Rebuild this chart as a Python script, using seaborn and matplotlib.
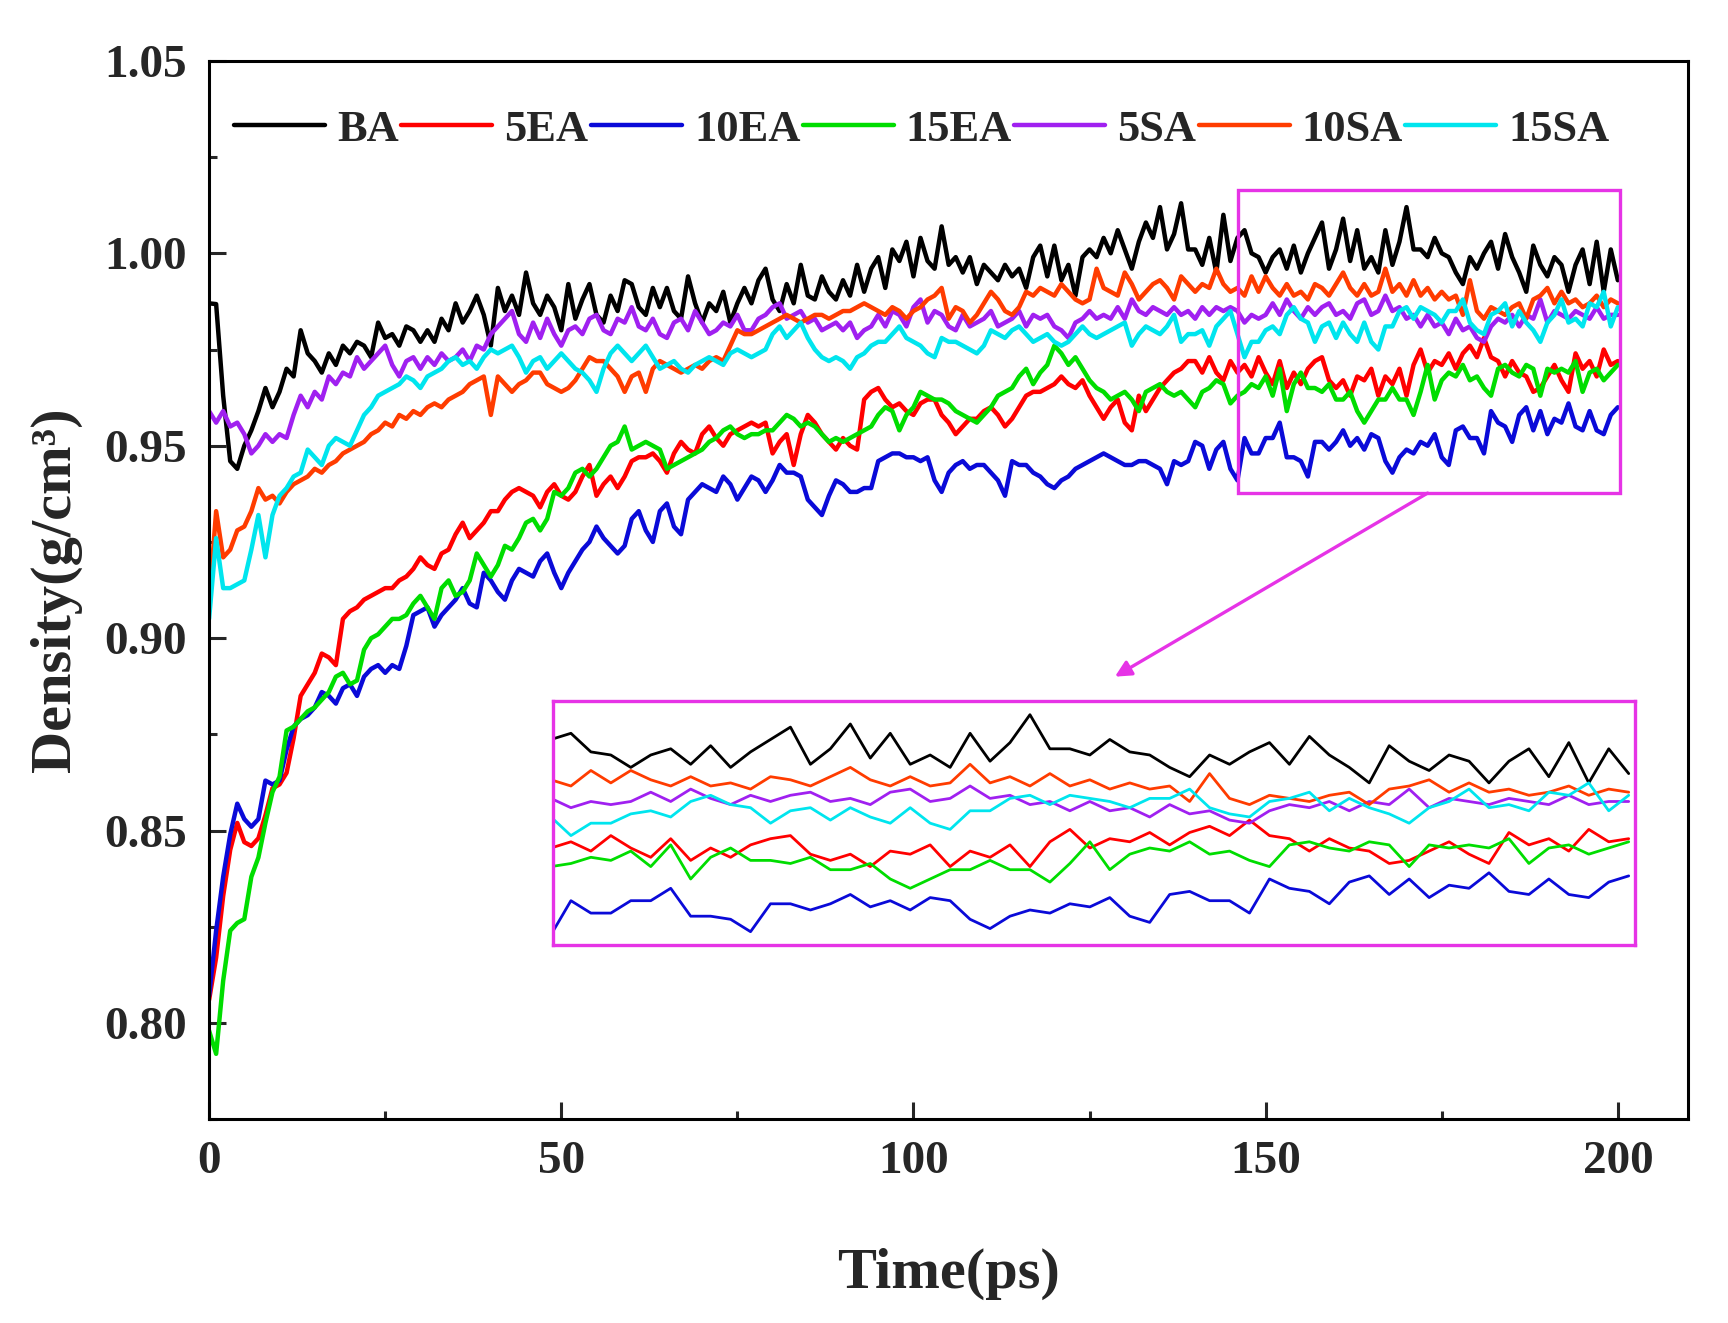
import numpy as np
import pandas as pd
import matplotlib
matplotlib.use('Agg')
import matplotlib.pyplot as plt
import seaborn as sns
from matplotlib.patches import Rectangle
from matplotlib.lines import Line2D
from matplotlib.ticker import MultipleLocator, FormatStrFormatter

# time axis, one sample per ps
time_ps = np.arange(0, 201)

# densities, in units of 1e-4 g/cm3
ba = [
    9870, 9868, 9630, 9460, 9440, 9500, 9540, 9590, 9650, 9600,
    9640, 9700, 9680, 9800, 9740, 9720, 9690, 9740, 9710, 9760,
    9740, 9770, 9760, 9730, 9820, 9780, 9790, 9760, 9810, 9800,
    9770, 9800, 9770, 9830, 9800, 9870, 9820, 9850, 9890, 9840,
    9760, 9910, 9850, 9890, 9840, 9950, 9870, 9840, 9890, 9860,
    9800, 9920, 9830, 9880, 9920, 9840, 9820, 9890, 9850, 9930,
    9920, 9860, 9840, 9910, 9860, 9910, 9850, 9830, 9940, 9870,
    9820, 9870, 9850, 9900, 9820, 9870, 9910, 9870, 9930, 9960,
    9880, 9850, 9920, 9870, 9970, 9890, 9880, 9940, 9900, 9880,
    9930, 9890, 9970, 9900, 9960, 9990, 9910, 10010, 9980, 10030,
    9940, 10040, 9980, 9960, 10070, 9970, 9990, 9950, 9990, 9920,
    9970, 9950, 9930, 9970, 9940, 9960, 9910, 9990, 10020, 9940,
    10020, 9930, 9970, 9890, 9990, 10010, 9990, 10040, 10000, 10060,
    10010, 9960, 10030, 10080, 10040, 10120, 10010, 10050, 10130, 10010,
    10010, 9970, 10040, 9950, 10100, 9980, 10040, 10060, 10000, 9990,
    9950, 9990, 10010, 9960, 10020, 9950, 10000, 10040, 10080, 9960,
    10010, 10090, 9980, 10060, 9960, 9990, 9950, 10060, 9970, 10030,
    10120, 10010, 10010, 9990, 10040, 10000, 9990, 9950, 9920, 9990,
    9960, 10000, 10030, 9960, 10050, 9990, 9950, 9900, 10020, 9970,
    9940, 9990, 9970, 9900, 9970, 10010, 9920, 10030, 9900, 10010,
    9930,
]
ea5 = [
    8060, 8170, 8330, 8450, 8520, 8470, 8460, 8480, 8540, 8610,
    8620, 8650, 8740, 8850, 8880, 8910, 8960, 8950, 8930, 9050,
    9070, 9080, 9100, 9110, 9120, 9130, 9130, 9150, 9160, 9180,
    9210, 9190, 9180, 9220, 9230, 9270, 9300, 9260, 9280, 9300,
    9330, 9330, 9360, 9380, 9390, 9380, 9370, 9340, 9380, 9400,
    9370, 9360, 9380, 9420, 9450, 9370, 9400, 9420, 9390, 9420,
    9460, 9470, 9470, 9480, 9460, 9430, 9480, 9510, 9490, 9480,
    9530, 9550, 9520, 9500, 9530, 9540, 9550, 9560, 9550, 9560,
    9480, 9510, 9530, 9450, 9530, 9580, 9560, 9530, 9510, 9490,
    9520, 9500, 9490, 9620, 9640, 9650, 9620, 9600, 9610, 9590,
    9580, 9610, 9620, 9620, 9580, 9560, 9530, 9550, 9570, 9570,
    9590, 9600, 9580, 9550, 9570, 9600, 9630, 9640, 9640, 9650,
    9660, 9680, 9660, 9650, 9670, 9630, 9600, 9570, 9600, 9620,
    9560, 9540, 9630, 9590, 9620, 9650, 9670, 9690, 9700, 9720,
    9720, 9690, 9730, 9690, 9670, 9720, 9690, 9710, 9680, 9730,
    9690, 9660, 9720, 9650, 9690, 9660, 9700, 9720, 9730, 9670,
    9650, 9670, 9630, 9680, 9670, 9700, 9630, 9680, 9660, 9700,
    9630, 9710, 9750, 9690, 9720, 9710, 9740, 9700, 9740, 9760,
    9730, 9780, 9730, 9720, 9680, 9720, 9690, 9680, 9640, 9650,
    9680, 9710, 9670, 9640, 9740, 9700, 9720, 9680, 9750, 9710,
    9720,
]
ea10 = [
    8070, 8240, 8380, 8490, 8570, 8530, 8510, 8530, 8630, 8620,
    8630, 8710, 8770, 8790, 8800, 8820, 8860, 8850, 8830, 8870,
    8880, 8850, 8900, 8920, 8930, 8910, 8930, 8920, 8980, 9060,
    9070, 9080, 9030, 9060, 9080, 9100, 9130, 9090, 9080, 9170,
    9150, 9120, 9100, 9150, 9180, 9170, 9160, 9200, 9220, 9170,
    9130, 9170, 9200, 9230, 9250, 9290, 9260, 9240, 9220, 9240,
    9310, 9330, 9280, 9250, 9330, 9350, 9290, 9270, 9360, 9380,
    9400, 9390, 9380, 9420, 9400, 9360, 9390, 9420, 9410, 9380,
    9410, 9450, 9430, 9430, 9420, 9360, 9340, 9320, 9370, 9410,
    9400, 9380, 9380, 9390, 9390, 9460, 9470, 9480, 9480, 9470,
    9470, 9460, 9470, 9410, 9380, 9430, 9450, 9460, 9440, 9450,
    9450, 9430, 9410, 9370, 9460, 9450, 9450, 9430, 9420, 9400,
    9390, 9410, 9420, 9440, 9450, 9460, 9470, 9480, 9470, 9460,
    9450, 9450, 9460, 9460, 9450, 9440, 9400, 9460, 9450, 9460,
    9510, 9500, 9440, 9490, 9510, 9440, 9410, 9520, 9480, 9480,
    9520, 9520, 9560, 9470, 9470, 9460, 9420, 9510, 9510, 9490,
    9510, 9540, 9500, 9520, 9490, 9530, 9520, 9460, 9430, 9470,
    9490, 9480, 9510, 9500, 9530, 9470, 9450, 9540, 9550, 9520,
    9520, 9480, 9590, 9560, 9550, 9510, 9580, 9600, 9540, 9590,
    9530, 9570, 9560, 9610, 9550, 9540, 9590, 9540, 9530, 9580,
    9600,
]
ea15 = [
    7980, 7920, 8110, 8240, 8260, 8270, 8380, 8430, 8520, 8600,
    8640, 8760, 8770, 8790, 8810, 8820, 8840, 8860, 8900, 8910,
    8880, 8890, 8970, 9000, 9010, 9030, 9050, 9050, 9060, 9090,
    9110, 9080, 9050, 9130, 9150, 9110, 9120, 9150, 9220, 9190,
    9160, 9190, 9240, 9230, 9260, 9300, 9310, 9280, 9310, 9380,
    9370, 9390, 9430, 9440, 9420, 9440, 9470, 9500, 9510, 9550,
    9490, 9500, 9510, 9500, 9490, 9440, 9450, 9460, 9470, 9480,
    9490, 9510, 9520, 9540, 9550, 9530, 9520, 9530, 9530, 9540,
    9540, 9560, 9580, 9570, 9550, 9560, 9550, 9530, 9510, 9520,
    9510, 9520, 9530, 9540, 9550, 9580, 9600, 9590, 9540, 9580,
    9600, 9640, 9630, 9620, 9620, 9610, 9590, 9580, 9570, 9560,
    9580, 9600, 9630, 9640, 9650, 9680, 9700, 9660, 9690, 9710,
    9760, 9740, 9710, 9730, 9700, 9670, 9650, 9640, 9620, 9630,
    9640, 9620, 9590, 9640, 9650, 9660, 9640, 9630, 9640, 9620,
    9600, 9640, 9650, 9670, 9660, 9610, 9630, 9640, 9660, 9650,
    9680, 9630, 9700, 9590, 9660, 9690, 9650, 9650, 9640, 9660,
    9620, 9620, 9640, 9590, 9560, 9590, 9620, 9620, 9650, 9620,
    9620, 9580, 9640, 9710, 9620, 9670, 9690, 9680, 9710, 9670,
    9680, 9650, 9630, 9700, 9710, 9690, 9680, 9710, 9700, 9630,
    9700, 9690, 9700, 9690, 9720, 9640, 9690, 9700, 9670, 9690,
    9710,
]
sa5 = [
    9590, 9560, 9590, 9550, 9560, 9530, 9480, 9500, 9530, 9510,
    9530, 9520, 9580, 9630, 9600, 9640, 9620, 9680, 9660, 9690,
    9680, 9730, 9700, 9720, 9740, 9760, 9710, 9680, 9720, 9730,
    9700, 9730, 9710, 9740, 9720, 9730, 9750, 9720, 9760, 9750,
    9790, 9810, 9830, 9850, 9790, 9770, 9820, 9780, 9830, 9790,
    9760, 9800, 9810, 9790, 9830, 9840, 9800, 9790, 9830, 9820,
    9860, 9810, 9800, 9830, 9790, 9780, 9820, 9830, 9800, 9850,
    9820, 9790, 9800, 9820, 9810, 9840, 9800, 9800, 9830, 9840,
    9860, 9870, 9830, 9840, 9850, 9820, 9830, 9800, 9810, 9820,
    9800, 9820, 9780, 9800, 9810, 9840, 9810, 9850, 9840, 9810,
    9860, 9880, 9820, 9850, 9840, 9810, 9800, 9840, 9810, 9820,
    9830, 9850, 9810, 9820, 9830, 9850, 9810, 9840, 9830, 9840,
    9810, 9800, 9780, 9820, 9830, 9850, 9830, 9840, 9830, 9860,
    9830, 9880, 9850, 9840, 9860, 9850, 9840, 9860, 9840, 9850,
    9830, 9860, 9840, 9860, 9850, 9860, 9850, 9820, 9840, 9830,
    9840, 9870, 9840, 9880, 9850, 9830, 9860, 9840, 9860, 9870,
    9840, 9850, 9830, 9870, 9880, 9840, 9850, 9890, 9850, 9860,
    9830, 9840, 9810, 9840, 9810, 9820, 9790, 9830, 9800, 9810,
    9780, 9770, 9810, 9830, 9820, 9840, 9810, 9840, 9830, 9880,
    9820, 9850, 9840, 9830, 9850, 9840, 9830, 9860, 9830, 9840,
    9840,
]
sa10 = [
    9090, 9330, 9210, 9230, 9280, 9290, 9330, 9390, 9360, 9370,
    9350, 9380, 9400, 9410, 9420, 9440, 9430, 9450, 9460, 9480,
    9490, 9500, 9510, 9530, 9540, 9560, 9550, 9580, 9570, 9590,
    9580, 9600, 9610, 9600, 9620, 9630, 9640, 9660, 9670, 9680,
    9580, 9680, 9660, 9640, 9660, 9670, 9690, 9690, 9660, 9650,
    9640, 9650, 9670, 9700, 9730, 9720, 9720, 9700, 9680, 9640,
    9680, 9690, 9640, 9700, 9720, 9710, 9700, 9690, 9700, 9710,
    9700, 9720, 9730, 9720, 9760, 9800, 9790, 9790, 9800, 9810,
    9820, 9830, 9840, 9830, 9820, 9830, 9840, 9840, 9830, 9840,
    9850, 9850, 9860, 9870, 9860, 9850, 9840, 9860, 9850, 9830,
    9850, 9860, 9880, 9890, 9910, 9830, 9860, 9850, 9820, 9840,
    9870, 9900, 9880, 9850, 9840, 9860, 9900, 9890, 9910, 9900,
    9890, 9920, 9900, 9880, 9870, 9880, 9960, 9910, 9900, 9890,
    9950, 9920, 9880, 9900, 9920, 9930, 9910, 9880, 9940, 9920,
    9900, 9920, 9910, 9960, 9920, 9900, 9910, 9890, 9940, 9900,
    9940, 9910, 9890, 9920, 9890, 9900, 9880, 9920, 9910, 9890,
    9920, 9950, 9910, 9890, 9920, 9890, 9900, 9960, 9900, 9920,
    9890, 9930, 9890, 9910, 9880, 9900, 9880, 9890, 9840, 9930,
    9850, 9830, 9860, 9850, 9840, 9860, 9870, 9830, 9880, 9890,
    9910, 9870, 9900, 9870, 9880, 9860, 9870, 9890, 9860, 9880,
    9870,
]
sa15 = [
    9050, 9260, 9130, 9130, 9140, 9150, 9230, 9320, 9210, 9320,
    9370, 9390, 9420, 9430, 9490, 9470, 9450, 9500, 9520, 9510,
    9500, 9540, 9580, 9600, 9630, 9640, 9650, 9660, 9680, 9670,
    9650, 9680, 9690, 9700, 9720, 9730, 9710, 9720, 9700, 9730,
    9750, 9740, 9750, 9760, 9730, 9690, 9720, 9730, 9700, 9720,
    9740, 9720, 9700, 9690, 9670, 9640, 9700, 9740, 9760, 9740,
    9720, 9740, 9760, 9730, 9700, 9710, 9720, 9700, 9690, 9710,
    9720, 9730, 9720, 9710, 9740, 9750, 9740, 9730, 9740, 9750,
    9790, 9810, 9780, 9800, 9820, 9780, 9750, 9730, 9720, 9730,
    9720, 9700, 9730, 9740, 9760, 9770, 9770, 9790, 9810, 9780,
    9770, 9760, 9740, 9730, 9780, 9770, 9770, 9760, 9750, 9740,
    9760, 9800, 9790, 9780, 9800, 9810, 9790, 9770, 9780, 9790,
    9770, 9760, 9770, 9790, 9810, 9790, 9780, 9790, 9800, 9810,
    9820, 9760, 9790, 9810, 9800, 9790, 9810, 9840, 9770, 9790,
    9790, 9800, 9760, 9810, 9830, 9850, 9790, 9730, 9770, 9770,
    9800, 9810, 9790, 9840, 9860, 9830, 9820, 9770, 9810, 9820,
    9780, 9820, 9790, 9770, 9820, 9770, 9750, 9810, 9810, 9850,
    9860, 9830, 9860, 9850, 9840, 9820, 9850, 9850, 9880, 9820,
    9800, 9790, 9840, 9850, 9870, 9810, 9850, 9820, 9800, 9770,
    9820, 9840, 9880, 9820, 9830, 9810, 9870, 9860, 9900, 9810,
    9860,
]

labels = ['BA', '5EA', '10EA', '15EA', '5SA', '10SA', '15SA']
colors = ['#000000', '#FF0000', '#0A0AD8', '#00DD00', '#A020F0', '#FF3C00', '#00E5EE']
series = [ba, ea5, ea10, ea15, sa5, sa10, sa15]

df = pd.concat([
    pd.DataFrame({'Time': time_ps, 'Density': np.array(s) / 1e4, 'Sample': lab})
    for s, lab in zip(series, labels)
], ignore_index=True)
palette = dict(zip(labels, colors))

sns.set_style('ticks')
plt.rcParams['font.family'] = ['Liberation Serif', 'DejaVu Serif']
plt.rcParams['font.weight'] = 'bold'

mag = '#E633E6'

fig = plt.figure(figsize=(8.64, 6.615), dpi=200)
ax = fig.add_axes([0.121, 0.154, 0.856, 0.800])

sns.lineplot(data=df, x='Time', y='Density', hue='Sample', hue_order=labels,
             palette=palette, estimator=None, lw=1.6, ax=ax, legend=False)

ax.set_xlim(0, 210)
ax.set_ylim(0.775, 1.05)
ax.xaxis.set_major_locator(MultipleLocator(50))
ax.xaxis.set_minor_locator(MultipleLocator(25))
ax.yaxis.set_major_locator(MultipleLocator(0.05))
ax.yaxis.set_minor_locator(MultipleLocator(0.025))
ax.yaxis.set_major_formatter(FormatStrFormatter('%.2f'))
ax.tick_params(which='both', direction='in', top=False, right=False, width=1.1)
ax.tick_params(which='major', length=6, labelsize=17, pad=8)
ax.tick_params(which='minor', length=3)
for lab in ax.get_xticklabels() + ax.get_yticklabels():
    lab.set_fontweight('bold')
for sp in ax.spines.values():
    sp.set_visible(True)
    sp.set_linewidth(1.1)
    sp.set_color('black')

ax.set_xlabel('Time(ps)', fontsize=21, fontweight='bold', labelpad=23)
ax.set_ylabel('Density(g/cm³)', fontsize=21, fontweight='bold', labelpad=8)

handles = [Line2D([0], [0], color=c, lw=1.6) for c in colors]
ax.legend(handles, labels, ncol=7, loc='center left', bbox_to_anchor=(0.017, 0.935),
          frameon=False, handlelength=2.05, handletextpad=0.27, columnspacing=0.05,
          borderpad=0, borderaxespad=0, prop={'size': 16, 'weight': 'bold'})

# zoom box and arrow
x0, x1, y0, y1 = 146.1, 200.3, 0.9377, 1.0164
ax.add_patch(Rectangle((x0, y0), x1 - x0, y1 - y0, fill=False, edgecolor=mag, lw=1.2, zorder=5))
ax.annotate('', xy=(128.6, 0.890), xytext=(173.0, y0),
            arrowprops=dict(arrowstyle='-|>', color=mag, lw=1.2, mutation_scale=12,
                            shrinkA=0, shrinkB=0))

# inset with the magnified region
axins = fig.add_axes([0.320, 0.2857, 0.626, 0.1844])
sns.lineplot(data=df, x='Time', y='Density', hue='Sample', hue_order=labels,
             palette=palette, estimator=None, lw=1.0, ax=axins, legend=False)
axins.set_xlim(x0, x1)
axins.set_ylim(y0, y1)
axins.set_xticks([])
axins.set_yticks([])
axins.set_xlabel('')
axins.set_ylabel('')
for sp in axins.spines.values():
    sp.set_visible(True)
    sp.set_color(mag)
    sp.set_linewidth(1.2)

fig.savefig('out.png', dpi=200)
